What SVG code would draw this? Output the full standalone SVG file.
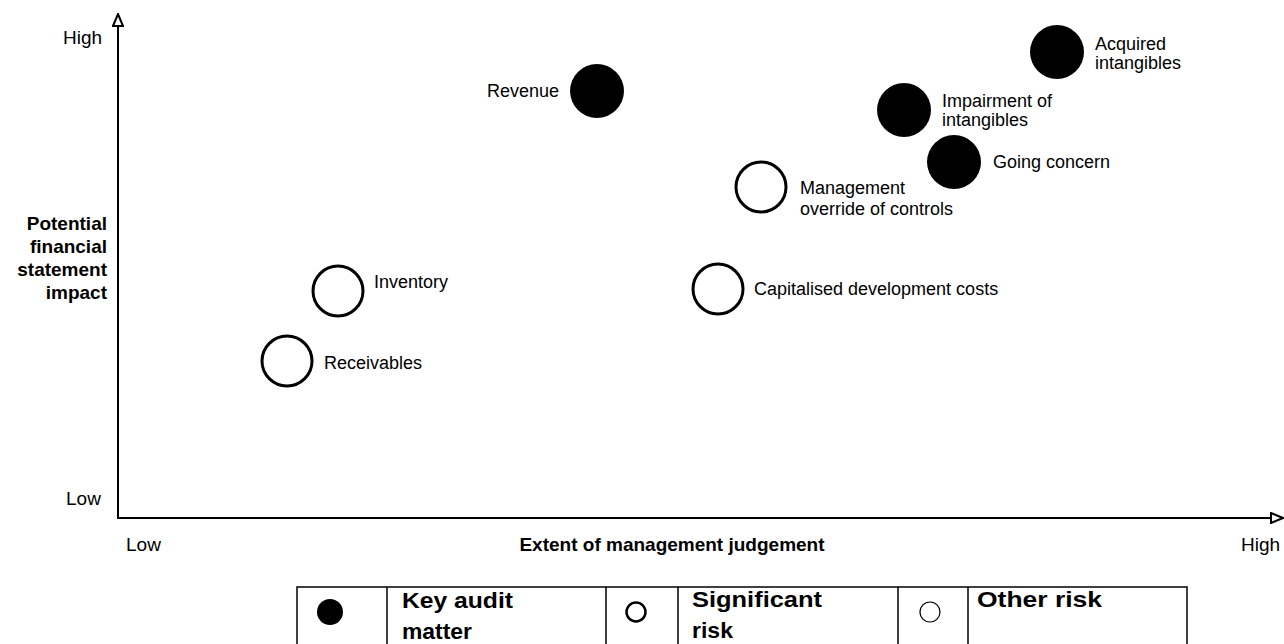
<svg xmlns="http://www.w3.org/2000/svg" width="1284" height="644" viewBox="0 0 1284 644">
<style>
.lbl{font-family:"Liberation Sans",Arial,sans-serif;font-size:18px;fill:#000}
.ax{font-family:"Liberation Sans",Arial,sans-serif;font-size:19px;fill:#000}
.axb{font-family:"Liberation Sans",Arial,sans-serif;font-size:19px;font-weight:bold;fill:#000}
.lg{font-family:"Liberation Sans",Arial,sans-serif;font-size:22px;font-weight:bold;fill:#000}
.kam{fill:#000;stroke:none}
.sig{fill:#fff;stroke:#000;stroke-width:3}
.axis{stroke:#000;stroke-width:2;fill:none}
.grid{stroke:#000;stroke-width:1.5;fill:none}
</style>
<defs>
<marker id="arr" viewBox="0 0 14 12" refX="13" refY="6" markerWidth="14" markerHeight="12" markerUnits="userSpaceOnUse" orient="auto">
<path d="M1,1 L13,6 L1,11 Z" fill="#fff" stroke="#000" stroke-width="2"/>
</marker>
</defs>
<rect width="1284" height="644" fill="#fff"/>
<g id="axes">
<line class="axis" x1="118" y1="519" x2="118" y2="14" marker-end="url(#arr)"/>
<line class="axis" x1="117" y1="518" x2="1283" y2="518" marker-end="url(#arr)"/>
<text class="ax" x="63" y="44">High</text>
<text class="ax" x="66" y="505">Low</text>
<text class="ax" x="126" y="551">Low</text>
<text class="ax" x="1241" y="551">High</text>
<text class="axb" x="672" y="551" text-anchor="middle">Extent of management judgement</text>
<text class="axb" text-anchor="end"><tspan x="107" y="230">Potential</tspan><tspan x="107" y="253">financial</tspan><tspan x="107" y="276">statement</tspan><tspan x="107" y="299">impact</tspan></text>
</g>
<g id="revenue"><circle class="kam" cx="597" cy="91" r="27"/><text class="lbl" x="559" y="97" text-anchor="end">Revenue</text></g>
<g id="acquired-intangibles"><circle class="kam" cx="1057" cy="52" r="27"/><text class="lbl"><tspan x="1095" y="50">Acquired</tspan><tspan x="1095" y="69">intangibles</tspan></text></g>
<g id="impairment"><circle class="kam" cx="904" cy="110" r="27"/><text class="lbl"><tspan x="942" y="107">Impairment of</tspan><tspan x="942" y="126">intangibles</tspan></text></g>
<g id="going-concern"><circle class="kam" cx="954" cy="162" r="27"/><text class="lbl" x="993" y="168">Going concern</text></g>
<g id="management-override"><circle class="sig" cx="761" cy="187" r="25"/><text class="lbl"><tspan x="800" y="194">Management</tspan><tspan x="800" y="215">override of controls</tspan></text></g>
<g id="capitalised-development"><circle class="sig" cx="718" cy="289" r="25" stroke-width="2.5"/><text class="lbl" x="754" y="295">Capitalised development costs</text></g>
<g id="inventory"><circle class="sig" cx="338" cy="291" r="25" stroke-width="2.5"/><text class="lbl" x="374" y="288">Inventory</text></g>
<g id="receivables"><circle class="sig" cx="287" cy="361" r="25" stroke-width="2.5"/><text class="lbl" x="324" y="369">Receivables</text></g>
<g id="legend">
<path class="grid" d="M297,650 V587 H1187 V650 M387,587 V650 M606,587 V650 M678,587 V650 M898,587 V650 M968,587 V650"/>
<circle cx="330" cy="612" r="13" fill="#000"/>
<circle cx="636" cy="612" r="9.5" fill="#fff" stroke="#000" stroke-width="2.5"/>
<circle cx="930" cy="612" r="10" fill="#fff" stroke="#000" stroke-width="1.2"/>
<text class="lg"><tspan x="402" y="608" textLength="111" lengthAdjust="spacingAndGlyphs">Key audit</tspan><tspan x="402" y="639" textLength="70" lengthAdjust="spacingAndGlyphs">matter</tspan></text>
<text class="lg"><tspan x="692" y="607" textLength="130" lengthAdjust="spacingAndGlyphs">Significant</tspan><tspan x="692" y="638" textLength="41" lengthAdjust="spacingAndGlyphs">risk</tspan></text>
<text class="lg" x="977" y="607" textLength="125" lengthAdjust="spacingAndGlyphs">Other risk</text>
</g>
<g id="connectors"/>
</svg>
